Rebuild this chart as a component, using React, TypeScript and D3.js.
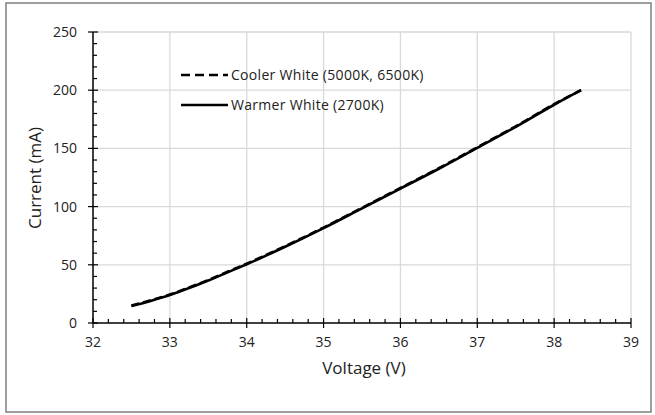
import React, { useRef, useEffect } from 'react';
import * as d3 from 'd3';

// forward voltage (V) vs current (mA)
const coolerVoltage = [32.5, 32.75, 33, 33.25, 33.5, 33.75, 34, 34.5, 35, 35.5, 36, 36.5, 37, 37.5, 38, 38.35];
const coolerCurrent = [15, 19.5, 24.5, 30.5, 37, 44, 51, 66, 82, 99, 116, 133, 151, 169, 188, 200];
const warmerVoltage = [32.5, 32.75, 33, 33.25, 33.5, 33.75, 34, 34.5, 35, 35.5, 36, 36.5, 37, 37.5, 38, 38.35];
const warmerCurrent = [14.5, 19, 24, 30, 36.5, 43.5, 50.5, 65.5, 81.5, 98.5, 115.5, 132.5, 150.5, 168.5, 187.5, 200];

const xTicks = [32, 33, 34, 35, 36, 37, 38, 39];
const yTicks = [0, 50, 100, 150, 200, 250];

const legendLabels = ['Cooler White (5000K, 6500K)', 'Warmer White (2700K)'];

const FONT = '"Open Sans", Lato, sans-serif';

const App: React.FC = () => {
  const ref = useRef<SVGSVGElement>(null);

  useEffect(() => {
    const svg = d3.select(ref.current);
    svg.selectAll('*').remove();

    const x = d3.scaleLinear().domain([32, 39]).range([93, 631]);
    const y = d3.scaleLinear().domain([0, 250]).range([323, 32]);

    // outer frame
    svg
      .append('rect')
      .attr('x', 6)
      .attr('y', 3)
      .attr('width', 645)
      .attr('height', 409)
      .attr('fill', '#fff')
      .attr('stroke', '#7f7f7f')
      .attr('stroke-width', 1.5);

    // grid
    const grid = svg.append('g').attr('stroke', '#d9d9d9').attr('stroke-width', 1.3);
    grid
      .selectAll('line.v')
      .data(xTicks.slice(1))
      .enter()
      .append('line')
      .attr('x1', (d) => x(d))
      .attr('x2', (d) => x(d))
      .attr('y1', y(250))
      .attr('y2', y(0));
    grid
      .selectAll('line.h')
      .data(yTicks.slice(1))
      .enter()
      .append('line')
      .attr('x1', x(32))
      .attr('x2', x(39))
      .attr('y1', (d) => y(d))
      .attr('y2', (d) => y(d));

    // minor ticks
    const xMinor = d3.range(32, 39.001, 0.2).filter((v) => Math.abs(v - Math.round(v)) > 0.01);
    const yMinor = d3.range(0, 250.001, 10).filter((v) => v % 50 !== 0);
    const ticks = svg.append('g').attr('stroke', '#000').attr('stroke-width', 1.2);
    ticks
      .selectAll('line.xm')
      .data(xMinor)
      .enter()
      .append('line')
      .attr('x1', (d) => x(d))
      .attr('x2', (d) => x(d))
      .attr('y1', y(0))
      .attr('y2', y(0) - 4);
    ticks
      .selectAll('line.ym')
      .data(yMinor)
      .enter()
      .append('line')
      .attr('x1', x(32))
      .attr('x2', x(32) + 4)
      .attr('y1', (d) => y(d))
      .attr('y2', (d) => y(d));
    ticks
      .selectAll('line.xM')
      .data(xTicks)
      .enter()
      .append('line')
      .attr('x1', (d) => x(d))
      .attr('x2', (d) => x(d))
      .attr('y1', y(0) - 5)
      .attr('y2', y(0) + 5);
    ticks
      .selectAll('line.yM')
      .data(yTicks)
      .enter()
      .append('line')
      .attr('x1', x(32) - 5)
      .attr('x2', x(32) + 5)
      .attr('y1', (d) => y(d))
      .attr('y2', (d) => y(d));

    // axis lines
    svg
      .append('line')
      .attr('x1', x(32))
      .attr('x2', x(39))
      .attr('y1', y(0))
      .attr('y2', y(0))
      .attr('stroke', '#000')
      .attr('stroke-width', 1.5);
    svg
      .append('line')
      .attr('x1', x(32))
      .attr('x2', x(32))
      .attr('y1', y(0))
      .attr('y2', y(250))
      .attr('stroke', '#000')
      .attr('stroke-width', 1.5);

    // tick labels
    svg
      .append('g')
      .selectAll('text')
      .data(xTicks)
      .enter()
      .append('text')
      .attr('x', (d) => x(d))
      .attr('y', y(0) + 24)
      .attr('text-anchor', 'middle')
      .attr('font-family', FONT)
      .attr('font-size', 14)
      .attr('fill', '#222')
      .text((d) => d);
    svg
      .append('g')
      .selectAll('text')
      .data(yTicks)
      .enter()
      .append('text')
      .attr('x', x(32) - 16)
      .attr('y', (d) => y(d) + 5)
      .attr('text-anchor', 'end')
      .attr('font-family', FONT)
      .attr('font-size', 14)
      .attr('fill', '#222')
      .text((d) => d);

    // axis titles
    svg
      .append('text')
      .attr('x', 364)
      .attr('y', 374)
      .attr('text-anchor', 'middle')
      .attr('font-family', FONT)
      .attr('font-size', 17)
      .attr('fill', '#222')
      .text('Voltage (V)');
    svg
      .append('text')
      .attr('transform', 'translate(41,178) rotate(-90)')
      .attr('text-anchor', 'middle')
      .attr('font-family', FONT)
      .attr('font-size', 17)
      .attr('fill', '#222')
      .text('Current (mA)');

    // series
    const line = d3
      .line<[number, number]>()
      .x((d) => x(d[0]))
      .y((d) => y(d[1]))
      .curve(d3.curveMonotoneX);

    svg
      .append('path')
      .datum(warmerVoltage.map((v, i) => [v, warmerCurrent[i]] as [number, number]))
      .attr('d', line)
      .attr('fill', 'none')
      .attr('stroke', '#000')
      .attr('stroke-width', 2.6);
    svg
      .append('path')
      .datum(coolerVoltage.map((v, i) => [v, coolerCurrent[i]] as [number, number]))
      .attr('d', line)
      .attr('fill', 'none')
      .attr('stroke', '#000')
      .attr('stroke-width', 2.6)
      .attr('stroke-dasharray', '8,4');

    // legend
    const legend = svg.append('g');
    const rows = [
      { label: legendLabels[0], y: 75, dash: '9,5' },
      { label: legendLabels[1], y: 105, dash: null },
    ];
    rows.forEach((r) => {
      legend
        .append('line')
        .attr('x1', 181)
        .attr('x2', 228)
        .attr('y1', r.y)
        .attr('y2', r.y)
        .attr('stroke', '#000')
        .attr('stroke-width', 2.6)
        .attr('stroke-dasharray', r.dash);
      legend
        .append('text')
        .attr('x', 231)
        .attr('y', r.y + 4.5)
        .attr('font-family', FONT)
        .attr('font-size', 14)
        .attr('letter-spacing', 0.3)
        .attr('fill', '#222')
        .text(r.label);
    });
  }, []);

  return (
    <svg
      ref={ref}
      width={655}
      height={415}
      style={{ position: 'absolute', left: 0, top: 0, background: '#fff' }}
    />
  );
};

export default App;
